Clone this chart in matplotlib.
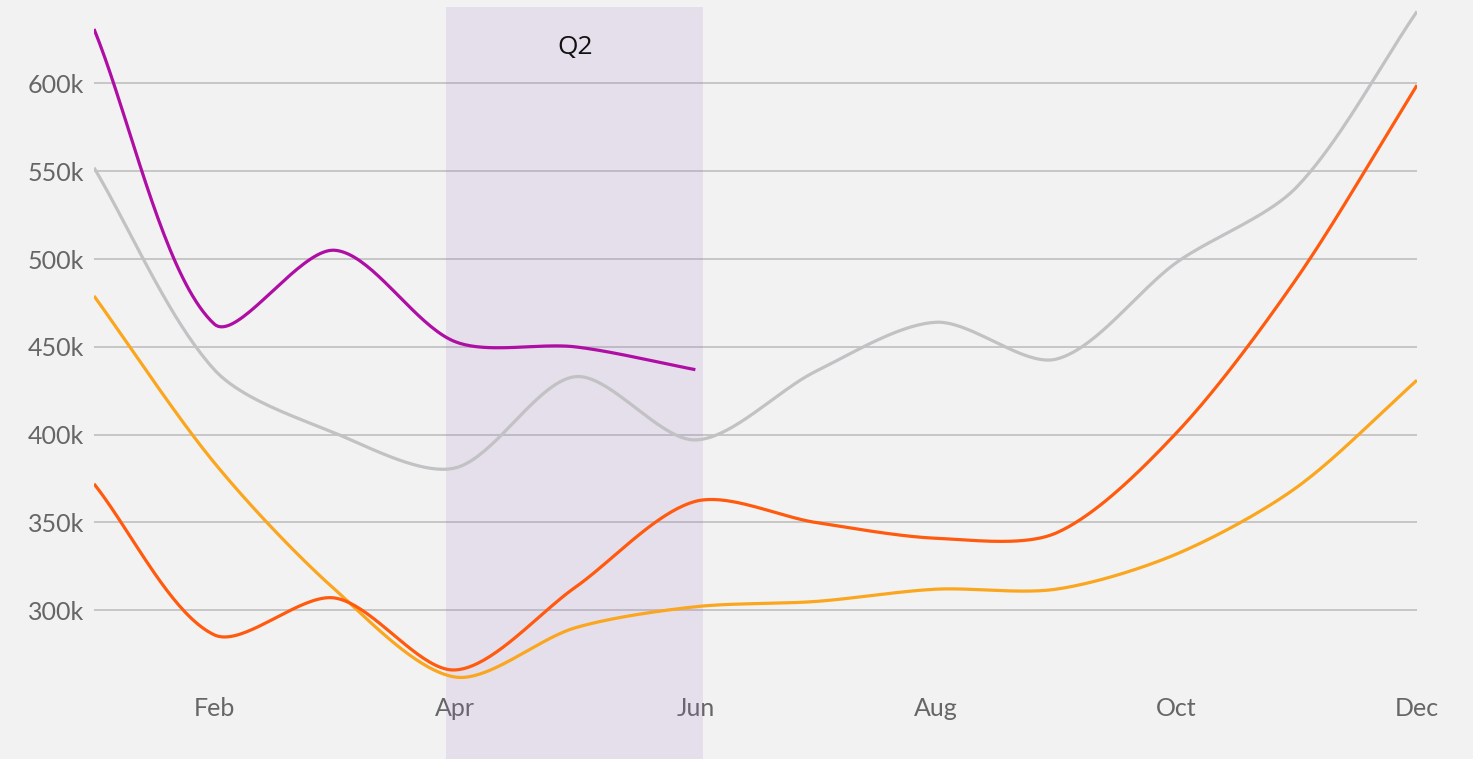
import numpy as np
import matplotlib
matplotlib.use("Agg")
import matplotlib.pyplot as plt
from matplotlib.ticker import FuncFormatter

# ─────────────────────────────────────────────
# Data (values in thousands)
# ─────────────────────────────────────────────

months = ["Jan", "Feb", "Mar", "Apr", "May", "Jun",
          "Jul", "Aug", "Sep", "Oct", "Nov", "Dec"]

purple = [631, 463, 505, 453, 450, 437]
grey = [552, 437, 401, 381, 433, 397, 436, 464, 443, 498, 541, 641]
red = [372, 286, 307, 266, 313, 362, 350, 341, 344, 401, 489, 599]
orange = [479, 384, 312, 262, 290, 302, 305, 312, 312, 332, 370, 431]

yticks = [300, 350, 400, 450, 500, 550, 600]
xtick_labels = ["Feb", "Apr", "Jun", "Aug", "Oct", "Dec"]
band_label = "Q2"

TENSION = 0.3


# ─────────────────────────────────────────────
# Cardinal bezier (chart.js style, in pixel space)
# ─────────────────────────────────────────────

def spline_path(ax, y, tension=TENSION, n=40):
    pts = ax.transData.transform(np.column_stack([np.arange(len(y)), y]))
    cp_in, cp_out = [], []
    for i in range(len(pts)):
        prev = pts[i - 1] if i > 0 else pts[i]
        cur = pts[i]
        nxt = pts[i + 1] if i < len(pts) - 1 else pts[i]
        d01 = np.hypot(*(cur - prev))
        d12 = np.hypot(*(nxt - cur))
        tot = d01 + d12
        fa = tension * d01 / tot if tot else 0
        fb = tension * d12 / tot if tot else 0
        cp_in.append(cur - fa * (nxt - prev))
        cp_out.append(cur + fb * (nxt - prev))

    out = []
    t = np.linspace(0, 1, n, endpoint=False)[:, None]
    for i in range(len(pts) - 1):
        p0, p1, p2, p3 = pts[i], cp_out[i], cp_in[i + 1], pts[i + 1]
        out.append((1 - t)**3 * p0 + 3 * (1 - t)**2 * t * p1
                   + 3 * (1 - t) * t**2 * p2 + t**3 * p3)
    out.append(pts[-1][None, :])
    xy = ax.transData.inverted().transform(np.vstack(out))
    return xy[:, 0], xy[:, 1]


# ─────────────────────────────────────────────
# Plot
# ─────────────────────────────────────────────

bg = "#f2f2f2"
fig = plt.figure(figsize=(14.73, 7.59), dpi=100, facecolor=bg)
ax = fig.add_axes([94 / 1473, 0, (1417 - 94) / 1473, 1])
ax.set_facecolor(bg)

ax.set_xlim(0, 11)
ax.set_ylim(215.3, 647.5)

for v in yticks:
    ax.axhline(v, color="#c6c6c6", lw=1.4, zorder=1)

# Q2 band
ax.axvspan(2.93, 5.06, ymin=0, ymax=1 - 7 / 759,
           color=(0.55, 0.4, 0.75), alpha=0.13, lw=0, zorder=2)
ax.text(4.0, 1 - 47 / 759, band_label, transform=ax.get_xaxis_transform(),
        ha="center", va="center", fontsize=19, color="#111111", family="Open Sans")

for series, color in [(grey, "#c2c1c4"), (orange, "#fba61f"),
                      (red, "#ff5a0e"), (purple, "#ae0ea4")]:
    xs, ys = spline_path(ax, series)
    ax.plot(xs, ys, color=color, lw=2.3, zorder=3, solid_capstyle="butt")

for s in ax.spines.values():
    s.set_visible(False)

ax.set_yticks(yticks)
ax.yaxis.set_major_formatter(FuncFormatter(lambda v, p: f"{int(v)}k"))
ax.set_xticks([months.index(m) for m in xtick_labels])
ax.set_xticklabels(xtick_labels)
ax.tick_params(axis="y", length=0, pad=7, labelsize=18, labelcolor="#666666")
ax.tick_params(axis="x", length=0, pad=-45, labelsize=18, labelcolor="#666666")
for lab in ax.get_xticklabels() + ax.get_yticklabels():
    lab.set_family("Lato")

fig.savefig("out.png", dpi=100, facecolor=bg)
